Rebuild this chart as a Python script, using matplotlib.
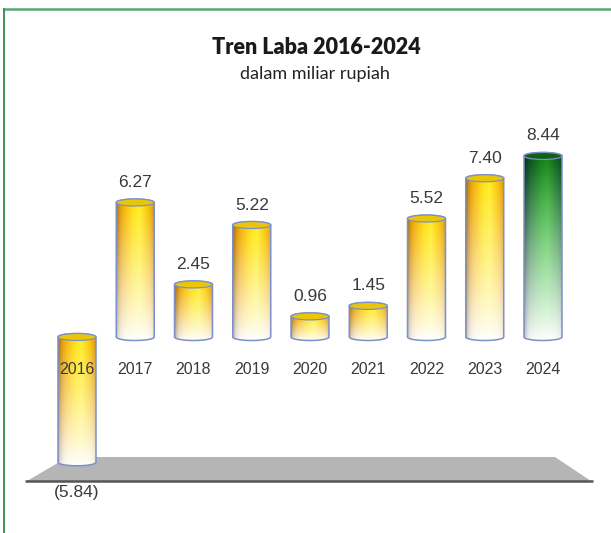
import numpy as np
import matplotlib.pyplot as plt
from matplotlib.path import Path
from matplotlib.patches import PathPatch, Ellipse, Polygon
from matplotlib.lines import Line2D

years = ['2016', '2017', '2018', '2019', '2020', '2021', '2022', '2023', '2024']
laba = [-5.84, 6.27, 2.45, 5.22, 0.96, 1.45, 5.52, 7.40, 8.44]
highlight = '2024'

W, H = 611, 533
edge_col = '#7f90c8'
text_col = '#3a3a3a'

# horizontal colour stops across the cylinder top (u from left to right)
gold_u = [0.0, 0.15, 0.45, 0.62, 0.85, 1.0]
gold_c = np.array([[0.86, 0.55, 0.00], [0.96, 0.66, 0.00], [1.00, 0.88, 0.04],
                   [1.00, 0.93, 0.12], [0.98, 0.76, 0.00], [0.90, 0.62, 0.08]])
green_c = np.array([[0.02, 0.32, 0.14], [0.05, 0.45, 0.17], [0.10, 0.68, 0.12],
                    [0.14, 0.74, 0.14], [0.07, 0.55, 0.15], [0.05, 0.42, 0.18]])


def cylinder_image(stops, dark_top=0.0, nx=80, ny=200):
    u = np.linspace(0, 1, nx)
    v = np.linspace(0, 1, ny)[:, None]
    top = np.stack([np.interp(u, gold_u, stops[:, k]) for k in range(3)], axis=-1)
    a = (v ** 0.9)[..., None]
    img = (1 - a) * 1.0 + a * top[None, :, :]
    img = img * (1 - dark_top * (v ** 4))[..., None]
    shade = 1 - 0.28 * np.exp(-u / 0.07) - 0.10 * np.exp(-(1 - u) / 0.05)
    img = img * shade[None, :, None]
    return np.clip(img, 0, 1)


def cylinder_path(xc, hw, y0, y1, ry, n=40):
    t_top = np.linspace(np.pi, 0, n)
    t_bot = np.linspace(0, -np.pi, n)
    pts = [(xc - hw, y0)]
    pts += list(zip(xc + hw * np.cos(t_top), y1 + ry * np.sin(t_top)))
    pts += list(zip(xc + hw * np.cos(t_bot), y0 + ry * np.sin(t_bot)))
    pts.append((xc - hw, y0))
    return Path(pts, closed=True)


fig = plt.figure(figsize=(W / 100, H / 100), dpi=100)
ax = fig.add_axes([0, 0, 1, 1])
px_x, x0_px = 58.25, 77
px_y, y0_px = 21.45, 337
ax.set_xlim(-x0_px / px_x, (W - x0_px) / px_x)
ax.set_ylim(-(H - y0_px) / px_y, y0_px / px_y)
ax.axis('off')

# frame
fig.add_artist(Line2D([4 / W, 1], [1 - 9 / H, 1 - 9 / H], color='#5aa775', lw=1.8))
fig.add_artist(Line2D([4 / W, 4 / W], [0, 1 - 9 / H], color='#3f8f5a', lw=1.4))

# grey floor
floor = Polygon([(27 / W, 1 - 481 / H), (591 / W, 1 - 481 / H),
                 (555 / W, 1 - 457 / H), (68 / W, 1 - 457 / H)],
                closed=True, transform=ax.transAxes, facecolor='#b5b5b5',
                edgecolor='none', zorder=1)
ax.add_patch(floor)
ax.plot([25 / W, 593 / W], [1 - 481 / H, 1 - 481 / H], color='#555555', lw=1.8,
        transform=ax.transAxes, zorder=1.5, solid_capstyle='butt')

hw = 19 / px_x
ry = 3.5 / px_y
for i, (yr, val) in enumerate(zip(years, laba)):
    y0, y1 = min(0, val), max(0, val)
    stops = green_c if yr == highlight else gold_c
    img = cylinder_image(stops, dark_top=0.35 if yr == highlight else 0.0)
    im = ax.imshow(img, extent=(i - hw, i + hw, y0 - ry, y1 + ry), origin='lower',
                   aspect='auto', interpolation='bilinear', zorder=3)
    body = PathPatch(cylinder_path(i, hw, y0, y1, ry), facecolor='none',
                     edgecolor=edge_col, lw=1.1, zorder=4)
    ax.add_patch(body)
    im.set_clip_path(body)
    cap_col = img[-1, int(img.shape[1] * 0.4)] * 0.92
    ax.add_patch(Ellipse((i, y1), 2 * hw, 2 * ry, facecolor=cap_col,
                         edgecolor=edge_col, lw=0.9, zorder=5))

    label = f'({abs(val):.2f})' if val < 0 else f'{val:.2f}'
    off = -21.5 if val < 0 else 14.4
    ax.annotate(label, (i, val), xytext=(0, off), textcoords='offset points',
                ha='center', va='center', fontsize=12.5, color=text_col,
                family='Liberation Sans', zorder=6)
    ax.text(i, -33 / px_y, yr, ha='center', va='center', fontsize=11.5,
            color=text_col, family='Liberation Sans', zorder=6)

fig.text(316 / W, 1 - 47 / H, 'Tren Laba 2016-2024', ha='center', va='center',
         fontsize=15.5, fontweight='heavy', family='Lato', color='#1a1a1a')
fig.text(315 / W, 1 - 74 / H, 'dalam miliar rupiah', ha='center', va='center',
         fontsize=13, family='Lato', color='#222222')

fig.savefig('out.png', dpi=100)
